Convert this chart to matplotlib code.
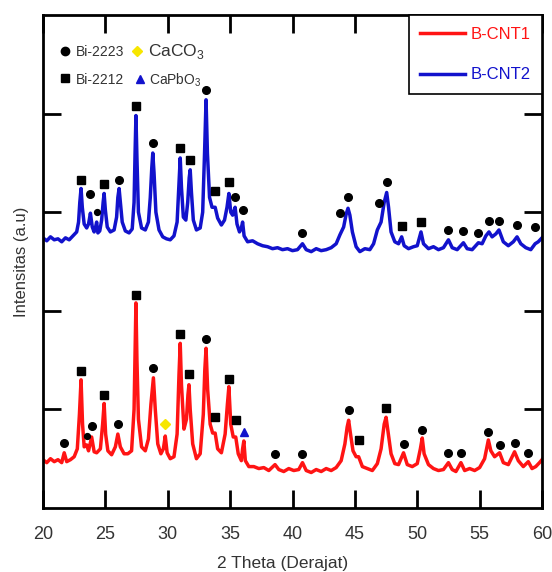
# XRD pattern of the two B-CNT samples, with phase markers.

import numpy as np
import matplotlib
matplotlib.use('Agg')
import matplotlib.pyplot as plt

plt.rcParams['font.family'] = ['Liberation Sans', 'DejaVu Sans']
plt.rcParams['mathtext.fontset'] = 'custom'
plt.rcParams['mathtext.rm'] = 'Liberation Sans'

# (2 theta, intensity), intensity on a 0-500 a.u. scale
cnt1_points = [
	(20.0, 49), (20.3, 46), (20.6, 50), (20.9, 47), (21.2, 49), (21.5, 46), (21.7, 56),
	(21.9, 47), (22.2, 49), (22.5, 52), (22.75, 60), (22.92, 95), (23.05, 130), (23.17, 85),
	(23.3, 62), (23.5, 64), (23.65, 58), (23.9, 72), (24.1, 57), (24.3, 56), (24.6, 60),
	(24.78, 85), (24.9, 106), (25.02, 75), (25.2, 58), (25.5, 54), (25.8, 62), (26.0, 75),
	(26.2, 62), (26.5, 55), (26.8, 55), (27.1, 58), (27.3, 100), (27.38, 160), (27.45, 208),
	(27.53, 150), (27.65, 90), (27.9, 62), (28.2, 58), (28.45, 70), (28.65, 105), (28.85, 132),
	(29.0, 100), (29.2, 65), (29.45, 55), (29.65, 60), (29.8, 73), (29.95, 56), (30.2, 50),
	(30.5, 52), (30.75, 75), (30.9, 135), (31.0, 167), (31.1, 125), (31.3, 80), (31.5, 90),
	(31.62, 115), (31.7, 125), (31.8, 100), (32.0, 65), (32.3, 50), (32.6, 55), (32.85, 95),
	(32.97, 140), (33.07, 162), (33.2, 120), (33.4, 85), (33.6, 76), (33.8, 76), (34.0, 60),
	(34.3, 56), (34.6, 75), (34.78, 105), (34.9, 123), (35.05, 85), (35.25, 72), (35.45, 72),
	(35.65, 55), (35.9, 48), (36.0, 60), (36.1, 68), (36.22, 48), (36.5, 42), (36.9, 42),
	(37.3, 40), (37.7, 41), (38.1, 38), (38.6, 44), (38.9, 39), (39.3, 37), (39.7, 40),
	(40.1, 38), (40.5, 39), (40.8, 46), (41.1, 38), (41.5, 36), (41.9, 39), (42.3, 37),
	(42.7, 40), (43.1, 38), (43.5, 41), (43.9, 48), (44.2, 65), (44.38, 82), (44.5, 89),
	(44.65, 75), (44.85, 58), (45.1, 52), (45.3, 52), (45.6, 42), (46.0, 40), (46.4, 38),
	(46.8, 45), (47.1, 60), (47.35, 85), (47.5, 92), (47.65, 78), (47.9, 55), (48.2, 45),
	(48.5, 44), (48.9, 56), (49.2, 44), (49.6, 42), (50.0, 45), (50.25, 60), (50.4, 71),
	(50.55, 55), (50.9, 44), (51.3, 40), (51.7, 38), (52.1, 39), (52.5, 46), (52.8, 39),
	(53.1, 37), (53.5, 46), (53.8, 38), (54.2, 40), (54.6, 38), (55.0, 41), (55.4, 50),
	(55.7, 69), (55.9, 58), (56.2, 52), (56.6, 56), (56.9, 46), (57.3, 44), (57.8, 57),
	(58.1, 48), (58.5, 42), (58.9, 47), (59.2, 40), (59.5, 42), (59.8, 46), (60.0, 49),
]

cnt2_points = [
	(20.0, 274), (20.3, 271), (20.6, 275), (20.9, 272), (21.2, 273), (21.5, 270), (21.8, 274),
	(22.1, 272), (22.4, 276), (22.7, 280), (22.85, 290), (22.95, 310), (23.05, 324), (23.15, 305),
	(23.3, 288), (23.5, 284), (23.65, 288), (23.8, 299), (23.95, 285), (24.1, 280), (24.2, 284),
	(24.3, 290), (24.4, 279), (24.55, 281), (24.7, 292), (24.82, 310), (24.9, 319), (25.0, 302),
	(25.15, 285), (25.4, 280), (25.7, 282), (25.9, 295), (26.0, 315), (26.1, 324), (26.2, 310),
	(26.35, 290), (26.6, 281), (26.9, 279), (27.15, 283), (27.3, 310), (27.38, 360), (27.45, 398),
	(27.53, 355), (27.65, 300), (27.9, 284), (28.2, 282), (28.45, 290), (28.6, 315), (28.72, 345),
	(28.8, 360), (28.9, 340), (29.05, 300), (29.3, 282), (29.6, 275), (29.9, 273), (30.2, 272),
	(30.5, 276), (30.75, 290), (30.9, 330), (31.0, 355), (31.1, 325), (31.25, 295), (31.45, 292),
	(31.6, 310), (31.72, 335), (31.8, 343), (31.9, 320), (32.05, 292), (32.3, 282), (32.6, 284),
	(32.8, 300), (32.95, 360), (33.07, 414), (33.18, 360), (33.35, 315), (33.55, 305), (33.8, 305),
	(34.0, 294), (34.3, 287), (34.55, 292), (34.75, 305), (34.9, 319), (35.05, 300), (35.2, 297),
	(35.4, 305), (35.55, 288), (35.75, 280), (35.9, 284), (36.0, 290), (36.12, 276), (36.4, 270),
	(36.8, 271), (37.2, 268), (37.6, 266), (38.0, 265), (38.4, 263), (38.8, 264), (39.2, 262),
	(39.6, 263), (40.0, 261), (40.4, 262), (40.8, 268), (41.1, 262), (41.5, 260), (41.9, 263),
	(42.3, 261), (42.7, 262), (43.1, 264), (43.5, 268), (43.8, 277), (44.1, 285), (44.3, 298),
	(44.45, 304), (44.6, 297), (44.8, 280), (45.1, 265), (45.4, 260), (45.8, 263), (46.2, 262),
	(46.5, 268), (46.8, 282), (47.1, 290), (47.35, 310), (47.55, 320), (47.7, 305), (47.9, 280),
	(48.2, 270), (48.5, 268), (48.75, 275), (48.95, 266), (49.3, 263), (49.7, 265), (50.0, 266),
	(50.3, 280), (50.5, 268), (50.9, 263), (51.3, 265), (51.7, 262), (52.1, 264), (52.5, 272),
	(52.8, 264), (53.2, 262), (53.7, 269), (54.0, 263), (54.4, 262), (54.9, 269), (55.2, 268),
	(55.5, 276), (55.75, 280), (56.0, 275), (56.3, 278), (56.55, 282), (56.9, 270), (57.3, 266),
	(57.7, 270), (58.0, 275), (58.3, 268), (58.7, 264), (59.1, 262), (59.45, 268), (59.7, 270),
	(60.0, 274),
]

# phase markers (2 theta, height of marker)
cnt1_bi2223 = [(21.7, 66), (23.9, 83), (26.0, 85), (28.85, 142), (33.07, 171), (38.6, 55),
	(40.8, 55), (44.5, 99), (48.9, 65), (50.4, 79), (52.5, 56), (53.5, 56), (55.7, 77),
	(56.6, 64), (57.8, 66), (58.9, 56)]
cnt1_bi2223_small = [(23.5, 73)]
cnt1_bi2212 = [(23.05, 139), (24.9, 115), (27.45, 216), (31.0, 176), (31.7, 136), (33.8, 92),
	(34.9, 131), (35.45, 89), (45.3, 69), (47.5, 101)]
cnt1_caco3 = [(29.8, 85)]
cnt1_capbo3 = [(36.1, 77)]

cnt2_bi2223 = [(23.8, 318), (26.1, 333), (28.8, 370), (33.07, 424), (35.4, 315), (36.0, 302),
	(40.8, 279), (43.8, 299), (44.45, 315), (46.9, 309), (47.55, 331), (52.5, 282), (53.7, 281),
	(54.9, 279), (55.75, 291), (56.55, 291), (58.0, 287), (59.45, 285)]
cnt2_bi2223_small = [(24.3, 300)]
cnt2_bi2212 = [(23.05, 333), (24.9, 329), (27.45, 408), (31.0, 365), (31.8, 353), (33.8, 321),
	(34.9, 331), (48.75, 286), (50.3, 290)]

RED = '#ff1414'
BLUE = '#1212cc'
YELLOW = '#f7e600'
TEXT = '#333333'

fig = plt.figure(figsize=(5.52, 5.72), dpi=100)
ax = fig.add_axes([43/552, 64/572, 499/552, 493/572])

for pts, col, lab in [(cnt1_points, RED, 'B-CNT1'), (cnt2_points, BLUE, 'B-CNT2')]:
	t, v = np.array(pts).T
	ax.plot(t, v, color=col, lw=2.5, label=lab, solid_joinstyle='round')

def put_markers(pts, marker, color, size):
	t, v = np.array(pts).T
	ax.plot(t, v, ls='none', marker=marker, color=color, ms=size, mec=color)

put_markers(cnt1_bi2223 + cnt2_bi2223, 'o', 'black', 5.5)
put_markers(cnt1_bi2223_small + cnt2_bi2223_small, 'o', 'black', 4.2)
put_markers(cnt1_bi2212 + cnt2_bi2212, 's', 'black', 5.5)
put_markers(cnt1_caco3, 'D', YELLOW, 5.5)
put_markers(cnt1_capbo3, '^', BLUE, 6)

ax.set_xlim(20, 60)
ax.set_ylim(0, 500)
ax.set_xticks(range(20, 61, 5))
ax.set_yticks([100, 200, 300, 400])
ax.set_yticklabels([])
ax.tick_params(direction='in', length=13, width=2, top=True, right=True,
	labelsize=13, pad=13, labelcolor=TEXT)
for s in ax.spines.values():
	s.set_linewidth(2)

ax.set_xlabel('2 Theta (Derajat)', fontsize=12.5, color=TEXT)
ax.xaxis.set_label_coords(0.48, -0.097)
ax.set_ylabel('Intensitas (a.u)', fontsize=12, color=TEXT)
ax.yaxis.set_label_coords(-0.029, 0.5)

# phase key, top left
key_marks = [(0.044, 0.927, 'o', 'black', 6), (0.188, 0.927, 'D', YELLOW, 5.5),
	(0.044, 0.872, 's', 'black', 5.5), (0.194, 0.870, '^', BLUE, 6)]
for x, y, m, c, s in key_marks:
	ax.plot([x], [y], marker=m, color=c, ms=s, transform=ax.transAxes)
ax.text(0.066, 0.925, 'Bi-2223', transform=ax.transAxes, fontsize=10, va='center', color=TEXT)
ax.text(0.066, 0.868, 'Bi-2212', transform=ax.transAxes, fontsize=10, va='center', color=TEXT)
ax.text(0.210, 0.925, r'CaCO$_3$', transform=ax.transAxes, fontsize=12.5, va='center', color=TEXT)
ax.text(0.212, 0.868, r'CaPbO$_3$', transform=ax.transAxes, fontsize=10, va='center', color=TEXT)

leg = ax.legend(loc='upper right', borderaxespad=0, fancybox=False, edgecolor='black',
	framealpha=1, fontsize=12, handlelength=2.7, handletextpad=0.3, labelspacing=1.55,
	borderpad=0.7, labelcolor='linecolor')
leg.get_frame().set_linewidth(1.2)

fig.savefig('out.png', dpi=100)
